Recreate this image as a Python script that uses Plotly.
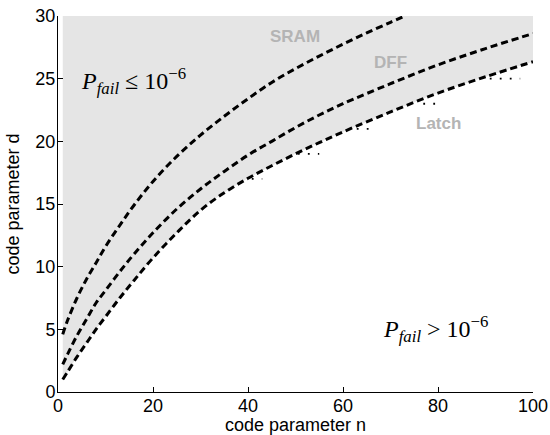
import plotly.graph_objects as go

# ---- data ----
n_sram = [1, 2, 4, 6, 8, 10, 13, 16, 20, 25, 30, 35, 40, 45, 50, 55, 60, 65, 70, 73]
d_sram = [4.6, 5.7, 7.5, 9.0, 10.3, 11.6, 13.3, 14.9, 16.8, 18.8, 20.5, 22.0, 23.4,
          24.7, 25.8, 26.8, 27.75, 28.65, 29.5, 30.0]

n_dff = [1, 2, 4, 6, 8, 10, 13, 16, 20, 25, 30, 35, 40, 45, 50, 55, 60, 70, 80, 90, 100]
d_dff = [2.2, 3.0, 4.5, 5.8, 7.1, 8.1, 9.6, 11.0, 12.7, 14.6, 16.2, 17.6, 18.9, 20.0,
         21.1, 22.1, 23.0, 24.6, 26.1, 27.4, 28.6]

n_latch = [1, 2, 4, 6, 8, 10, 13, 16, 20, 25, 30, 35, 40, 45, 50, 55, 60, 70, 80, 90, 100]
d_latch = [1.0, 1.6, 2.8, 3.9, 5.0, 6.0, 7.5, 8.9, 10.7, 12.7, 14.5, 15.9, 17.05, 18.05,
           19.0, 19.9, 20.75, 22.35, 23.85, 25.15, 26.35]

# discrete (dotted) steps just below the Latch curve
step_d = [17, 19, 21, 23, 25]
step_n_start = [40.8, 50.5, 62.9, 76.9, 90.9]
step_n_end = [43.0, 55.0, 67.1, 81.0, 97.3]

x_ticks = [0, 20, 40, 60, 80, 100]
y_ticks = [0, 5, 10, 15, 20, 25, 30]
d_max = 30

labels = ["SRAM", "DFF", "Latch"]
label_n = [49.9, 69.9, 80.0]
label_d = [28.4, 26.3, 21.4]

# ---- figure ----
fig = go.Figure()

# shaded region above the Latch curve
fig.add_trace(go.Scatter(x=n_latch, y=[d_max] * len(n_latch), mode="lines",
                         line=dict(width=0, shape="spline"), hoverinfo="skip",
                         showlegend=False))
fig.add_trace(go.Scatter(x=n_latch, y=d_latch, mode="lines", fill="tonexty",
                         fillcolor="#e5e5e5", line=dict(width=0, shape="spline"),
                         hoverinfo="skip", showlegend=False))

# dotted steps
sx, sy = [], []
for d, a, b in zip(step_d, step_n_start, step_n_end):
    sx += [a, b, None]
    sy += [d, d, None]
fig.add_trace(go.Scatter(x=sx, y=sy, mode="lines",
                         line=dict(color="black", width=1.8, dash="1.8px,8.2px"),
                         showlegend=False))

dash_style = dict(color="black", width=3, dash="7px,4px", shape="spline")
for nx, dy in [(n_sram, d_sram), (n_dff, d_dff), (n_latch, d_latch)]:
    fig.add_trace(go.Scatter(x=nx, y=dy, mode="lines", line=dash_style,
                             showlegend=False))

for t, xn, yd in zip(labels, label_n, label_d):
    fig.add_annotation(x=xn, y=yd, text="<b>%s</b>" % t, showarrow=False,
                       font=dict(family="Liberation Sans", size=17, color="#b4b4b4"))

serif = dict(family="Liberation Serif", size=24, color="black")
fig.add_annotation(x=4.4, y=24.8, xanchor="left", showarrow=False, font=serif,
                   text="<i>P</i><sub><i>fail</i></sub> \u2264 10<sup>\u22126</sup>")
fig.add_annotation(x=68.0, y=5.0, xanchor="left", showarrow=False, font=serif,
                   text="<i>P</i><sub><i>fail</i></sub> &gt; 10<sup>\u22126</sup>")

axis_common = dict(showline=True, linecolor="black", linewidth=1, ticks="inside",
                   ticklen=5, tickcolor="black", showgrid=False, zeroline=False,
                   mirror=False, automargin=False,
                   tickfont=dict(family="Liberation Sans", size=18, color="black"),
                   title_font=dict(family="Liberation Sans", size=18, color="black"))

fig.update_xaxes(range=[0, 100], tickvals=x_ticks, title_text="code parameter n",
                 title_standoff=5, ticklabelstandoff=-3, **axis_common)
fig.update_yaxes(range=[0, 30], tickvals=y_ticks, title_text="code parameter d",
                 title_standoff=11, ticklabelstandoff=-2, **axis_common)

fig.update_layout(width=550, height=435, margin=dict(l=58, r=17, t=16, b=43),
                  plot_bgcolor="white", paper_bgcolor="white", showlegend=False)

fig.write_html("out.html", config={"displayModeBar": False},
               post_script="document.body.style.margin='0';"
                           "document.body.style.overflow='hidden';")
